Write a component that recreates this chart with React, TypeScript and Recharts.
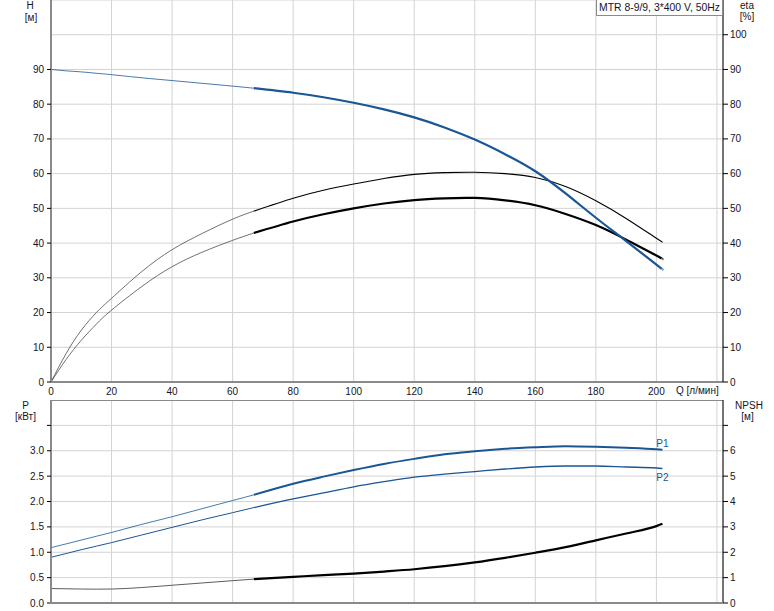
import React from "react";
import { ComposedChart, Line, XAxis, YAxis, CartesianGrid, ReferenceLine } from "recharts";

// ---- data ----
const Q = [0, 5, 10, 15, 20, 30, 40, 50, 60, 67, 80, 90, 100, 110, 120, 130, 140, 150, 160, 170, 180, 190, 200, 202];
const H = [90, 89.6, 89.3, 88.9, 88.5, 87.6, 86.8, 86.0, 85.2, 84.6, 83.3, 82.0, 80.4, 78.5, 76.2, 73.3, 69.8, 65.6, 60.7, 54.3, 47.3, 40.6, 33.8, 32.4];
const ETA_UPPER = [0, 8.2, 14.9, 20.0, 24.1, 31.8, 38.1, 42.8, 46.9, 49.2, 52.9, 55.2, 57.0, 58.6, 59.8, 60.3, 60.4, 60.0, 58.9, 56.3, 52.2, 47.1, 41.4, 40.4];
const ETA_LOWER = [0, 6.5, 12.0, 16.7, 20.7, 27.5, 33.2, 37.4, 40.8, 42.9, 46.2, 48.3, 50.0, 51.4, 52.4, 52.9, 53.0, 52.3, 50.9, 48.4, 45.2, 41.0, 36.4, 35.4];
const P1 = [1.09, 1.165, 1.24, 1.315, 1.39, 1.55, 1.70, 1.86, 2.02, 2.13, 2.35, 2.49, 2.62, 2.74, 2.84, 2.93, 2.99, 3.04, 3.07, 3.09, 3.08, 3.06, 3.03, 3.02];
const P2 = [0.90, 0.975, 1.05, 1.12, 1.19, 1.34, 1.49, 1.64, 1.78, 1.88, 2.05, 2.17, 2.29, 2.39, 2.48, 2.54, 2.59, 2.64, 2.68, 2.70, 2.70, 2.68, 2.66, 2.65];
const NPSH = [0.57, 0.56, 0.55, 0.545, 0.55, 0.61, 0.70, 0.79, 0.88, 0.94, 1.03, 1.10, 1.16, 1.24, 1.33, 1.45, 1.60, 1.78, 1.98, 2.20, 2.47, 2.74, 3.03, 3.12];
const SPLIT_Q = 67;

const Q_TICKS = [0, 20, 40, 60, 80, 100, 120, 140, 160, 180, 200, 220];
const Q_LABELED = [0, 20, 40, 60, 80, 100, 120, 140, 160, 180, 200];
const H_TICKS = [0, 10, 20, 30, 40, 50, 60, 70, 80, 90];
const ETA_TICKS = [0, 10, 20, 30, 40, 50, 60, 70, 80, 90, 100];
const P_TICKS = [0, 0.5, 1, 1.5, 2, 2.5, 3, 3.5];
const P_LABELED = [0, 0.5, 1, 1.5, 2, 2.5, 3];
const NPSH_TICKS = [0, 1, 2, 3, 4, 5, 6, 7];
const NPSH_LABELED = [0, 1, 2, 3, 4, 5, 6];

const TITLE = "MTR 8-9/9, 3*400 V, 50Hz";

// ---- helpers ----
const pts = (vals: number[]) => Q.map((q, i) => ({ q, v: vals[i] }));
const thin = (vals: number[]) => pts(vals).filter((d) => d.q <= SPLIT_Q);
const thick = (vals: number[]) => pts(vals).filter((d) => d.q >= SPLIT_Q);

const FONT = '"Liberation Sans", Arial, sans-serif';
const TXT = "#141428";
const BLUE = "#1a5694";
const GRID = "#d3d3d3";
const AXIS_GRAY = "#8a8a8a";
const W = 774;
const LEFT_W = 51;
const RIGHT_W = 51;
const AX_L = LEFT_W;
const AX_R = W - RIGHT_W;

function yTick(side: "left" | "right", labeled: number[], fmt: (v: number) => string) {
  return (props: any) => {
    const { y, payload } = props;
    const v = payload.value;
    const ax = side === "left" ? AX_L : AX_R;
    return (
      <g>
        <line
          x1={side === "left" ? ax - 4 : ax}
          x2={side === "left" ? ax : ax + 5}
          y1={y}
          y2={y}
          stroke="#000"
          strokeWidth={1}
        />
        {labeled.includes(v) && (
          <text
            x={side === "left" ? ax - 7 : ax + 7}
            y={y}
            dy="0.35em"
            textAnchor={side === "left" ? "end" : "start"}
            fontSize={10}
            fontFamily={FONT}
            fill={TXT}
          >
            {fmt(v)}
          </text>
        )}
      </g>
    );
  };
}

const xTick = (props: any) => {
  const { x, payload } = props;
  const v = payload.value;
  if (!Q_LABELED.includes(v)) return <g />;
  return (
    <text x={x} y={394.5} textAnchor="middle" fontSize={10} fontFamily={FONT} fill={TXT}>
      {String(v)}
    </text>
  );
};

const endLabel = (text: string, n: number, dy: number) => (props: any) => {
  const { x, y, index } = props;
  if (index !== n - 1) return <g />;
  return (
    <text x={x} y={y + dy} textAnchor="middle" fontSize={10} fontFamily={FONT} fill={BLUE}>
      {text}
    </text>
  );
};

const abs = (left: number, top: number, extra: any = {}) => ({
  position: "absolute" as const,
  left,
  top,
  fontFamily: FONT,
  fontSize: 10,
  color: TXT,
  lineHeight: "11px",
  whiteSpace: "nowrap" as const,
  ...extra,
});

export default function App() {
  const p1Thick = thick(P1);
  const p2Thick = thick(P2);
  return (
    <div style={{ position: "absolute", left: 0, top: 0, width: 774, height: 611, background: "#fff", overflow: "hidden" }}>
      {/* upper chart: H and eta */}
      <div style={{ position: "absolute", left: 0, top: 0, width: W, height: 400 }}>
        <ComposedChart width={W} height={400} margin={{ top: 0, right: 0, bottom: 0, left: 0 }}>
          <CartesianGrid stroke={GRID} strokeWidth={1} yAxisId="eta" xAxisId="q" />
          <XAxis
            xAxisId="q"
            dataKey="q"
            type="number"
            domain={[0, 222]}
            ticks={Q_TICKS}
            interval={0}
            height={18}
            axisLine={{ stroke: AXIS_GRAY, strokeWidth: 2 }}
            tickLine={false}
            tick={xTick}
            allowDataOverflow
          />
          <YAxis
            yAxisId="h"
            orientation="left"
            width={LEFT_W}
            type="number"
            domain={[0, 110]}
            ticks={H_TICKS}
            interval={0}
            axisLine={{ stroke: AXIS_GRAY, strokeWidth: 2 }}
            tickLine={false}
            tick={yTick("left", H_TICKS, (v) => String(v))}
            allowDataOverflow
          />
          <YAxis
            yAxisId="eta"
            orientation="right"
            width={RIGHT_W}
            type="number"
            domain={[0, 110]}
            ticks={ETA_TICKS}
            interval={0}
            axisLine={{ stroke: "#000", strokeWidth: 1 }}
            tickLine={false}
            tick={yTick("right", ETA_TICKS, (v) => String(v))}
            allowDataOverflow
          />
          <Line xAxisId="q" yAxisId="eta" data={thin(ETA_UPPER)} dataKey="v" type="natural" stroke="#333" strokeWidth={0.7} dot={false} isAnimationActive={false} />
          <Line xAxisId="q" yAxisId="eta" data={thick(ETA_UPPER)} dataKey="v" type="natural" stroke="#000" strokeWidth={1.1} dot={false} isAnimationActive={false} />
          <Line xAxisId="q" yAxisId="eta" data={thin(ETA_LOWER)} dataKey="v" type="natural" stroke="#333" strokeWidth={0.7} dot={false} isAnimationActive={false} />
          <Line xAxisId="q" yAxisId="eta" data={thick(ETA_LOWER)} dataKey="v" type="natural" stroke="#000" strokeWidth={2.2} dot={false} isAnimationActive={false} />
          <Line xAxisId="q" yAxisId="h" data={thin(H)} dataKey="v" type="natural" stroke={BLUE} strokeWidth={0.8} dot={false} isAnimationActive={false} />
          <Line xAxisId="q" yAxisId="h" data={thick(H)} dataKey="v" type="natural" stroke={BLUE} strokeWidth={2.2} dot={false} isAnimationActive={false} />
        </ComposedChart>
      </div>

      {/* lower chart: P and NPSH */}
      <div style={{ position: "absolute", left: 0, top: 400, width: W, height: 211 }}>
        <ComposedChart width={W} height={211} margin={{ top: 0, right: 0, bottom: 0, left: 0 }}>
          <CartesianGrid stroke={GRID} strokeWidth={1} yAxisId="p" xAxisId="q" />
          <XAxis
            xAxisId="q"
            dataKey="q"
            type="number"
            domain={[0, 222]}
            ticks={Q_TICKS}
            interval={0}
            height={8}
            axisLine={{ stroke: AXIS_GRAY, strokeWidth: 2 }}
            tickLine={false}
            tick={() => <g />}
            allowDataOverflow
          />
          <YAxis
            yAxisId="p"
            orientation="left"
            width={LEFT_W}
            type="number"
            domain={[0, 4]}
            ticks={P_TICKS}
            interval={0}
            axisLine={{ stroke: AXIS_GRAY, strokeWidth: 2 }}
            tickLine={false}
            tick={yTick("left", P_LABELED, (v) => v.toFixed(1))}
            allowDataOverflow
          />
          <YAxis
            yAxisId="npsh"
            orientation="right"
            width={RIGHT_W}
            type="number"
            domain={[0, 8]}
            ticks={NPSH_TICKS}
            interval={0}
            axisLine={{ stroke: "#000", strokeWidth: 1 }}
            tickLine={false}
            tick={yTick("right", NPSH_LABELED, (v) => String(v))}
            allowDataOverflow
          />
          <ReferenceLine xAxisId="q" yAxisId="p" y={4} stroke={AXIS_GRAY} strokeWidth={2} />
          <Line xAxisId="q" yAxisId="npsh" data={thin(NPSH)} dataKey="v" type="monotone" stroke="#333" strokeWidth={0.8} dot={false} isAnimationActive={false} />
          <Line xAxisId="q" yAxisId="npsh" data={thick(NPSH)} dataKey="v" type="monotone" stroke="#000" strokeWidth={2.2} dot={false} isAnimationActive={false} />
          <Line xAxisId="q" yAxisId="p" data={thin(P2)} dataKey="v" type="monotone" stroke={BLUE} strokeWidth={1} dot={false} isAnimationActive={false} />
          <Line xAxisId="q" yAxisId="p" data={p2Thick} dataKey="v" type="monotone" stroke={BLUE} strokeWidth={1.3} dot={false} isAnimationActive={false} label={endLabel("P2", p2Thick.length, 12)} />
          <Line xAxisId="q" yAxisId="p" data={thin(P1)} dataKey="v" type="monotone" stroke={BLUE} strokeWidth={0.8} dot={false} isAnimationActive={false} />
          <Line xAxisId="q" yAxisId="p" data={p1Thick} dataKey="v" type="monotone" stroke={BLUE} strokeWidth={2} dot={false} isAnimationActive={false} label={endLabel("P1", p1Thick.length, -3)} />
        </ComposedChart>
      </div>
      {/* lower plot bottom frame */}
      <div style={{ position: "absolute", left: 50, top: 602, width: 673, height: 2, background: AXIS_GRAY }} />

      {/* axis titles */}
      <div style={abs(0, 0, { width: 60, textAlign: "center" })}>H</div>
      <div style={abs(0, 12, { width: 62, textAlign: "center" })}>[м]</div>
      <div style={abs(727, 0, { width: 40, textAlign: "center" })}>eta</div>
      <div style={abs(727, 11, { width: 40, textAlign: "center" })}>[%]</div>
      <div style={abs(0, 400, { width: 51, textAlign: "center" })}>P</div>
      <div style={abs(0, 411, { width: 51, textAlign: "center" })}>[кВт]</div>
      <div style={abs(725, 400, { width: 48, textAlign: "center" })}>NPSH</div>
      <div style={abs(725, 411, { width: 45, textAlign: "center" })}>[м]</div>
      <div style={abs(676, 385)}>Q [л/мин]</div>

      {/* title box */}
      <div
        style={abs(596, -1, {
          width: 125,
          height: 15,
          border: "1px solid #8a8a8a",
          background: "#fff",
          textAlign: "center",
          fontSize: 10.4,
          lineHeight: "16px",
        })}
      >
        {TITLE}
      </div>
    </div>
  );
}
